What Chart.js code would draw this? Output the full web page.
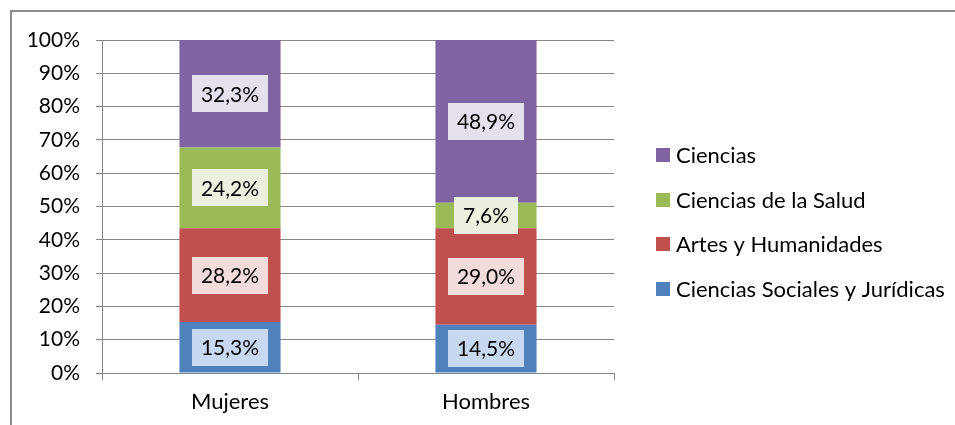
<!DOCTYPE html>
<html>
<head>
<meta charset="utf-8">
<script src="https://cdn.jsdelivr.net/npm/chart.js@4"></script>
<style>
  html, body { margin: 0; padding: 0; background: #fff; overflow: hidden; width: 955px; height: 425px; }
  #frame { position: absolute; left: 10px; top: 10px; width: 2000px; height: 2000px; border: 2px solid #8c8c8c; box-sizing: border-box; }
  #wrap { position: absolute; left: 0; top: 0; width: 955px; height: 425px; }
</style>
</head>
<body>
<div id="frame"></div>
<div id="wrap"><canvas id="c" width="955" height="425"></canvas></div>
<script>
// ---- data ----
const categories = ['Mujeres', 'Hombres'];
const seriesNames = ['Ciencias Sociales y Jurídicas', 'Artes y Humanidades', 'Ciencias de la Salud', 'Ciencias'];
const socialesValues = [15.3, 14.5];
const artesValues = [28.2, 29.0];
const saludValues = [24.2, 7.6];
const cienciasValues = [32.3, 48.9];
const yTicks = [0, 10, 20, 30, 40, 50, 60, 70, 80, 90, 100];

// ---- styles ----
const barColors = ['#4F81BD', '#C0504D', '#9BBB59', '#8064A2'];
const labelBgColors = ['#C6D9F1', '#F2DCDB', '#EBF1DE', '#E5E0EC'];
const FONT = 'Lato';
const FS_NUM = 21;
const FS_TXT = 22;

const seriesValues = [socialesValues, artesValues, saludValues, cienciasValues];
const fmt = v => v.toFixed(1).replace('.', ',') + '%';

const segLabels = {
  id: 'segLabels',
  afterDatasetsDraw(chart) {
    const ctx = chart.ctx;
    ctx.save();
    ctx.font = FS_NUM + 'px ' + FONT;
    ctx.textAlign = 'center';
    ctx.textBaseline = 'middle';
    chart.data.datasets.forEach((ds, i) => {
      const meta = chart.getDatasetMeta(i);
      meta.data.forEach((bar, j) => {
        const txt = fmt(ds.data[j]);
        const p = bar.getProps(['x', 'y', 'base'], true);
        const cy = (p.y + p.base) / 2;
        const w = ctx.measureText(txt).width + 18;
        const h = 37;
        ctx.fillStyle = labelBgColors[i];
        ctx.fillRect(Math.round(p.x - w / 2), Math.round(cy - h / 2), Math.round(w), h);
        ctx.fillStyle = '#000';
        ctx.fillText(txt, p.x, cy + 1);
      });
    });
    ctx.restore();
  }
};

const sideLegend = {
  id: 'sideLegend',
  afterDraw(chart) {
    const ctx = chart.ctx;
    const ds = chart.data.datasets;
    ctx.save();
    ctx.font = FS_TXT + 'px ' + FONT;
    ctx.textAlign = 'left';
    ctx.textBaseline = 'middle';
    const x0 = chart.chartArea.right + 42;
    const yStart = 155, step = 44.7;
    for (let k = 0; k < ds.length; k++) {
      const i = ds.length - 1 - k;
      const cy = yStart + k * step;
      ctx.fillStyle = ds[i].backgroundColor;
      ctx.fillRect(x0, Math.round(cy - 7), 14, 14);
      ctx.fillStyle = '#000';
      ctx.fillText(ds[i].label, x0 + 20, cy + 1);
    }
    ctx.restore();
  }
};

Chart.defaults.font.family = FONT;
Chart.defaults.font.size = FS_NUM;
Chart.defaults.color = '#000';

new Chart(document.getElementById('c'), {
  type: 'bar',
  data: {
    labels: categories,
    datasets: seriesNames.map((name, i) => ({
      label: name,
      data: seriesValues[i],
      backgroundColor: barColors[i],
      borderWidth: 0,
      barPercentage: 0.395,
      categoryPercentage: 1.0
    }))
  },
  options: {
    responsive: false,
    animation: false,
    events: [],
    layout: { padding: { left: 0, top: 40, right: 341, bottom: 0 } },
    plugins: { legend: { display: false }, tooltip: { enabled: false } },
    scales: {
      x: {
        stacked: true,
        grid: { display: true, drawOnChartArea: false, drawTicks: true, tickLength: 7, color: '#868686', offset: true },
        border: { display: true, color: '#868686', width: 1 },
        ticks: { padding: 9, font: { size: FS_TXT } },
        afterFit(s) { s.height = 52; }
      },
      y: {
        stacked: true,
        min: 0, max: 100,
        afterBuildTicks(s) { s.ticks = yTicks.map(v => ({ value: v })); },
        grid: { color: '#868686', tickLength: 6, lineWidth: 1 },
        border: { display: true, color: '#868686', width: 1 },
        ticks: { padding: 16, callback: v => v + '%', font: { size: FS_NUM } },
        afterFit(s) { s.width = 102; }
      }
    }
  },
  plugins: [segLabels, sideLegend]
});
</script>
</body>
</html>
